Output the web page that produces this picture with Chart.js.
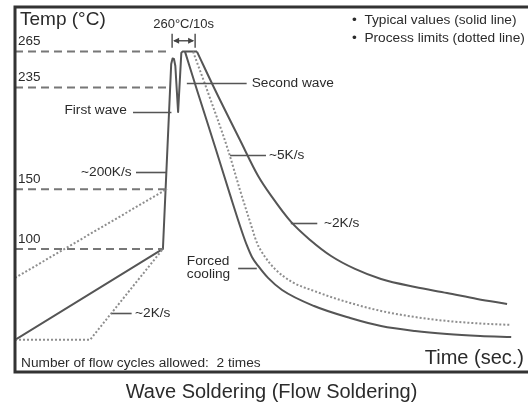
<!DOCTYPE html>
<html>
<head>
<meta charset="utf-8">
<script src="https://cdn.jsdelivr.net/npm/chart.js@4.4.1/dist/chart.umd.min.js"></script>
<style>
  html, body { margin:0; padding:0; background:#fff; }
  canvas { display:block; }
</style>
</head>
<body>
<canvas id="c" width="528" height="404"></canvas>
<script>
// ─── Profile data (time in s, temperature in °C) ───

const refLevels = [265, 235, 150, 100];          // dashed guides + their labels
const refEnds   = [67.8, 66.4, 65.5, 64.3];       // time where each guide stops

// typical profile: preheat, ~200K/s rise, first wave, second wave plateau
const heatT = [0, 64.3, 67.9, 68.5, 69.1, 69.7, 70.9, 72.3, 72.8, 79.1];
const heatC = [24, 100, 254.7, 259.3, 258.9, 253, 214.5, 263.9, 265, 265];

// typical natural cooling (~5K/s then ~2K/s)
const coolT = [79.1, 87.0, 97.8, 105.7, 111.7, 120.0, 128.3, 137.4, 147.8, 159.1, 173.9, 187.8, 200.9, 213.9];
const coolC = [265, 232.9, 191.1, 161.0, 143.5, 122.6, 107.5, 94.1, 83.3, 74.9, 68.2, 63.2, 58.2, 54.0];

// forced cooling
const forcedT = [73.9, 79.1, 87.4, 93.5, 98.7, 100.9, 103.0, 105.7, 110.0, 116.1, 130.0, 145.7, 159.1, 173.9, 187.8, 202.2, 215.7];
const forcedC = [265, 232.9, 182.8, 145.2, 114.2, 102.5, 93.3, 85.8, 75.8, 65.7, 52.3, 42.3, 35.6, 31.4, 28.9, 27.3, 26.4];

// process limits (dotted)
const limCoolT = [77.4, 83.5, 92.6, 97.8, 102.2, 105.2, 108.7, 113.0, 120.4, 130.0, 141.3, 159.1, 173.9, 187.8, 202.2, 215.7];
const limCoolC = [265, 232.9, 182.8, 149.3, 122.6, 105.0, 93.3, 83.3, 72.4, 64.9, 57.4, 48.2, 43.1, 39.8, 37.7, 36.5];
const limHiT = [0, 66.1];
const limHiC = [75.8, 150.2];
const limLoT = [0, 32.6, 64.3];
const limLoC = [24, 24, 100];

// 260°C / 10s dwell marker
const dwellT = [68.3, 78.3];

const FONT = "'Liberation Sans', Arial, Helvetica, sans-serif";
const INK  = '#2b2b2b';

const pts = (xs, ys) => xs.map((x, i) => ({ x, y: ys[i] }));

// leader-line labels, anchored in data units
const leaders = [
  { text:['First wave'],        x1:51.3, x2:68.0,  y:214.5, tx:48.6,  align:'right', dy:-2 },
  { text:['~200K/s'],           x1:52.6, x2:65.9,  y:164.4, tx:50.7,  align:'right', dy:0 },
  { text:['Second wave'],       x1:74.7, x2:100.7, y:239.0, tx:102.9, align:'left',  dy:0 },
  { text:['~5K/s'],             x1:93.5, x2:109.1, y:178.6, tx:110.4, align:'left',  dy:0 },
  { text:['~2K/s'],             x1:119.9,x2:131.4, y:121.5, tx:134.3, align:'left',  dy:0 },
  { text:['Forced','cooling'],  x1:97.0, x2:105.1, y:84.1,  tx:74.7,  align:'left',  dy:-1 },
  { text:['~2K/s'],             x1:42.0, x2:50.7,  y:46.7,  tx:52.2,  align:'left',  dy:0 },
];

const annoPlugin = {
  id: 'anno',
  afterDatasetsDraw(chart) {
    const { ctx, chartArea: a, scales: { x, y } } = chart;
    ctx.save();
    ctx.fillStyle = INK;
    ctx.textBaseline = 'middle';

    // level labels above the dashed guides
    ctx.font = `13.5px ${FONT}`;
    ctx.textAlign = 'left';
    refLevels.forEach(lv => ctx.fillText(String(lv), a.left + 3, y.getPixelForValue(lv) - 10));

    // leaders
    ctx.strokeStyle = '#555';
    ctx.lineWidth = 1.6;
    ctx.font = `13.7px ${FONT}`;
    leaders.forEach(l => {
      const py = Math.round(y.getPixelForValue(l.y)) + 0.5;
      ctx.beginPath();
      ctx.moveTo(x.getPixelForValue(l.x1), py);
      ctx.lineTo(x.getPixelForValue(l.x2), py);
      ctx.stroke();
      ctx.textAlign = l.align;
      const tx = x.getPixelForValue(l.tx);
      const n = l.text.length;
      l.text.forEach((s, i) => ctx.fillText(s, tx, py + l.dy + (i - (n - 1) / 2) * 12.5));
    });

    // dwell arrow |<-->|
    const xa = x.getPixelForValue(dwellT[0]), xb = x.getPixelForValue(dwellT[1]);
    const ya = y.getPixelForValue(274);
    ctx.lineWidth = 1.5;
    ctx.beginPath();
    ctx.moveTo(xa, ya - 7); ctx.lineTo(xa, ya + 7);
    ctx.moveTo(xb, ya - 7); ctx.lineTo(xb, ya + 7);
    ctx.moveTo(xa + 2, ya); ctx.lineTo(xb - 2, ya);
    ctx.stroke();
    ctx.fillStyle = '#444';
    ctx.beginPath();
    ctx.moveTo(xa + 1, ya); ctx.lineTo(xa + 7, ya - 3); ctx.lineTo(xa + 7, ya + 3); ctx.closePath();
    ctx.moveTo(xb - 1, ya); ctx.lineTo(xb - 7, ya - 3); ctx.lineTo(xb - 7, ya + 3); ctx.closePath();
    ctx.fill();
    ctx.fillStyle = INK;
    ctx.font = `13px ${FONT}`;
    ctx.textAlign = 'center';
    ctx.fillText('260°C/10s', (xa + xb) / 2, y.getPixelForValue(288));

    // free text inside the frame
    ctx.textAlign = 'left';
    ctx.font = `19px ${FONT}`;
    ctx.fillText('Temp (°C)', a.left + 5, a.top + 13);
    ctx.font = `13.7px ${FONT}`;
    ctx.fillText('•  Typical values (solid line)', 352, a.top + 13);
    ctx.fillText('•  Process limits (dotted line)', 352, a.top + 31);
    ctx.fillText('Number of flow cycles allowed:  2 times', a.left + 6, a.bottom - 10);
    ctx.textAlign = 'right';
    ctx.font = `20px ${FONT}`;
    ctx.fillText('Time (sec.)', 524, a.bottom - 15);
    ctx.restore();
  },
  afterDraw(chart) {
    // frame: top, left, bottom
    const { ctx, chartArea: a, width } = chart;
    ctx.save();
    ctx.strokeStyle = '#333';
    ctx.lineWidth = 3;
    ctx.beginPath();
    ctx.moveTo(width, a.top);
    ctx.lineTo(a.left, a.top);
    ctx.lineTo(a.left, a.bottom - 1);
    ctx.lineTo(width, a.bottom - 1);
    ctx.stroke();
    ctx.restore();
  }
};

const solid  = { borderColor:'#555', borderWidth:2, pointRadius:0, fill:false, borderJoinStyle:'round' };
const dotted = { borderColor:'#8e8e8e', borderWidth:2, borderDash:[2,2], pointRadius:0, fill:false };
const guide  = { borderColor:'#777', borderWidth:2, borderDash:[8,5], pointRadius:0, fill:false };

new Chart(document.getElementById('c'), {
  type: 'line',
  data: {
    datasets: [
      ...refLevels.map((lv, i) => ({ ...guide, data: [{ x:0, y:lv }, { x:refEnds[i], y:lv }] })),
      { ...dotted, data: pts(limHiT, limHiC) },
      { ...dotted, data: pts(limLoT, limLoC) },
      { ...dotted, data: pts(limCoolT, limCoolC), cubicInterpolationMode:'monotone' },
      { ...solid,  data: pts(heatT, heatC) },
      { ...solid,  data: pts(coolT, coolC), cubicInterpolationMode:'monotone' },
      { ...solid,  data: pts(forcedT, forcedC), cubicInterpolationMode:'monotone' },
    ]
  },
  options: {
    responsive: false,
    animation: false,
    devicePixelRatio: 1,
    layout: { padding: { left:15, top:7, right:0, bottom:0 } },
    plugins: {
      legend: { display:false },
      tooltip: { enabled:false },
      title: {
        display: true, position: 'bottom',
        text: 'Wave Soldering (Flow Soldering)',
        color: INK, font: { family: FONT, size: 20, weight: 'normal' },
        padding: { top: 7, bottom: 0 }
      }
    },
    scales: {
      x: { type:'linear', display:false, min:0, max:223 },
      y: { type:'linear', display:false, min:-3.7, max:302.3 }
    }
  },
  plugins: [annoPlugin]
});
</script>
</body>
</html>
